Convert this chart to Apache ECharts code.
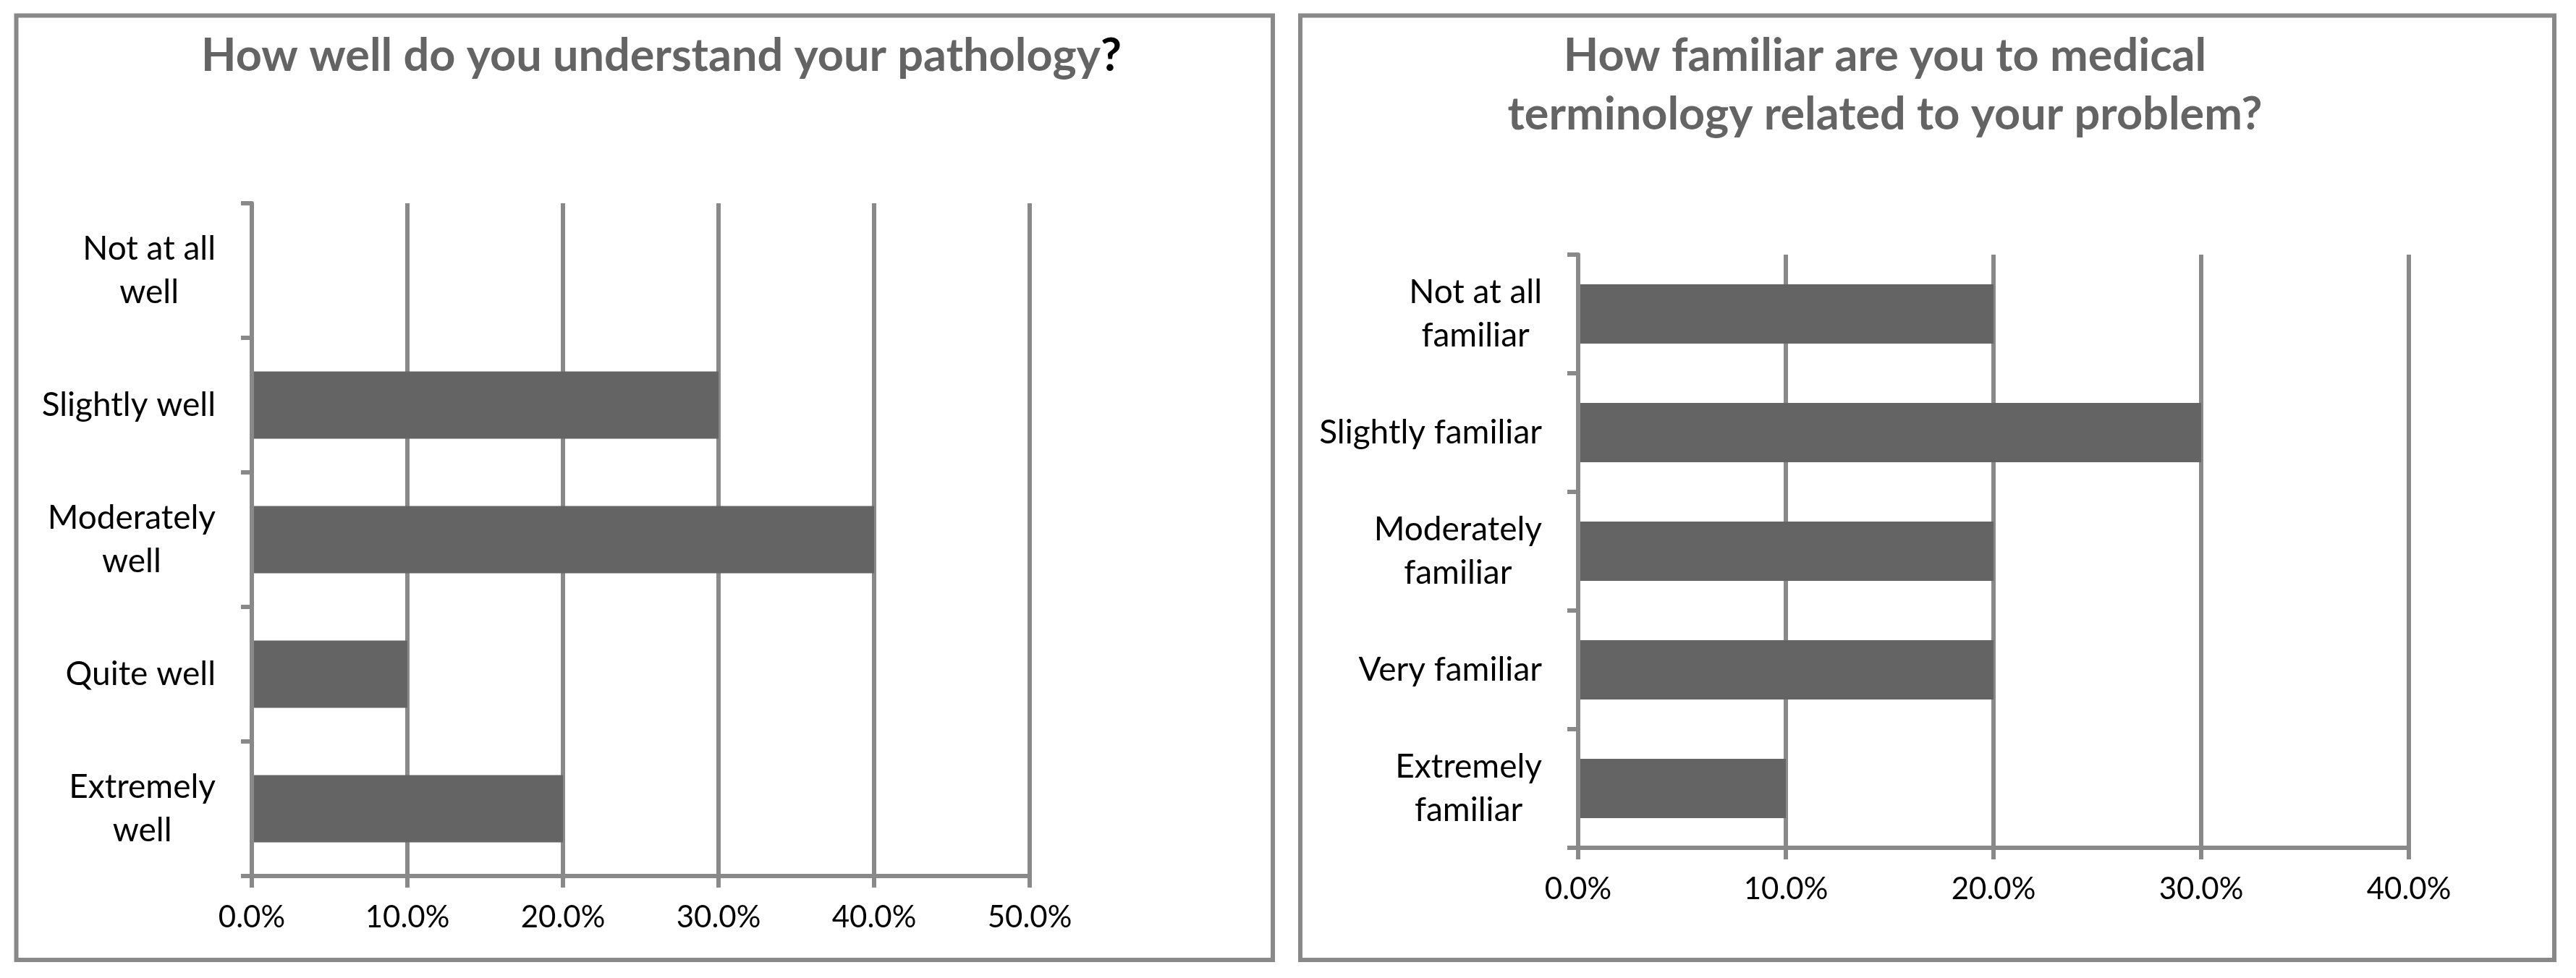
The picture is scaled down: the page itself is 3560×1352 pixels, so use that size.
<!DOCTYPE html>
<html>
<head>
<meta charset="utf-8">
<title>Survey charts</title>
<script src="https://cdn.jsdelivr.net/npm/echarts@6/dist/echarts.min.js"></script>
<style>
  html, body { margin: 0; padding: 0; background: #fff; }
  #wrap { position: relative; width: 3560px; height: 1352px; }
  #pic_left, #pic_right { position: absolute; top: 0; width: 1780px; height: 1352px; }
  #pic_left { left: 0; }
  #pic_right { left: 1780px; }
</style>
</head>
<body>
<div id="wrap">
  <div id="pic_left"></div>
  <div id="pic_right"></div>
</div>
<script>
// left chart data (top to bottom, as in the picture)
var leftTitle = 'How well do you understand your pathology';
var leftCategories = ['Not at all\nwell', 'Slightly well', 'Moderately\nwell', 'Quite well', 'Extremely\nwell'];
var leftValues = [0, 30, 40, 10, 20];
var leftTicks = [0, 10, 20, 30, 40, 50];

// right chart data
var rightTitle = 'How familiar are you to medical\nterminology related to your problem?';
var rightCategories = ['Not at all\nfamiliar', 'Slightly familiar', 'Moderately\nfamiliar', 'Very familiar', 'Extremely\nfamiliar'];
var rightValues = [20, 30, 20, 20, 10];
var rightTicks = [0, 10, 20, 30, 40];

var lineGrey = '#898989';
var barGrey = '#646464';
var textGrey = '#646464';
var font = 'Lato';

function makeOption(cfg) {
  var axisLine = { color: lineGrey, width: 6 };
  return {
    animation: false,
    title: {
      text: cfg.title,
      left: cfg.titleX,
      top: 32,
      textAlign: 'center',
      textStyle: {
        fontFamily: font, fontWeight: 'bold', fontSize: 63, color: textGrey, lineHeight: 81,
        rich: {
          q: { fontFamily: font, fontWeight: 'bold', fontSize: 63, color: '#000', lineHeight: 81 }
        }
      }
    },
    graphic: [{
      type: 'rect',
      silent: true,
      shape: cfg.frame,
      style: { fill: 'none', stroke: lineGrey, lineWidth: 6 }
    }],
    grid: cfg.grid,
    xAxis: {
      type: 'value',
      min: cfg.ticks[0],
      max: cfg.ticks[cfg.ticks.length - 1],
      interval: cfg.ticks[1] - cfg.ticks[0],
      axisLine: { show: true, lineStyle: axisLine },
      axisTick: { show: true, length: 16, lineStyle: axisLine },
      splitLine: { show: true, lineStyle: axisLine },
      axisLabel: {
        margin: 36,
        fontFamily: font, fontSize: 42, color: '#000',
        formatter: function (v) { return v.toFixed(1) + '%'; }
      }
    },
    yAxis: {
      type: 'category',
      inverse: true,
      z: 3,
      data: cfg.categories,
      axisLine: { show: true, lineStyle: axisLine },
      axisTick: { show: true, length: 15, lineStyle: axisLine },
      splitLine: { show: false },
      axisLabel: {
        margin: 50,
        formatter: function (v) {
          return v.split('\n').map(function (s) { return '{c|' + s + '}'; }).join('\n');
        },
        rich: {
          c: { align: 'center', fontFamily: font, fontSize: 46, color: '#000', lineHeight: 60 }
        }
      }
    },
    series: [{
      type: 'bar',
      data: cfg.values,
      barWidth: '50%',
      itemStyle: { color: barGrey }
    }]
  };
}

var chartLeft = echarts.init(document.getElementById('pic_left'));
var chartRight = echarts.init(document.getElementById('pic_right'));

chartLeft.setOption(makeOption({
  title: leftTitle + '{q|?}',
  titleX: 909,
  frame: { x: 22.5, y: 21.5, width: 1736.5, height: 1305.5 },
  grid: { left: 348, top: 281, width: 1075, height: 930 },
  categories: leftCategories,
  values: leftValues,
  ticks: leftTicks
}));

chartRight.setOption(makeOption({
  title: rightTitle,
  titleX: 820,
  frame: { x: 17, y: 21.5, width: 1733, height: 1305.5 },
  grid: { left: 401, top: 352, width: 1148, height: 820 },
  categories: rightCategories,
  values: rightValues,
  ticks: rightTicks
}));
</script>
</body>
</html>
